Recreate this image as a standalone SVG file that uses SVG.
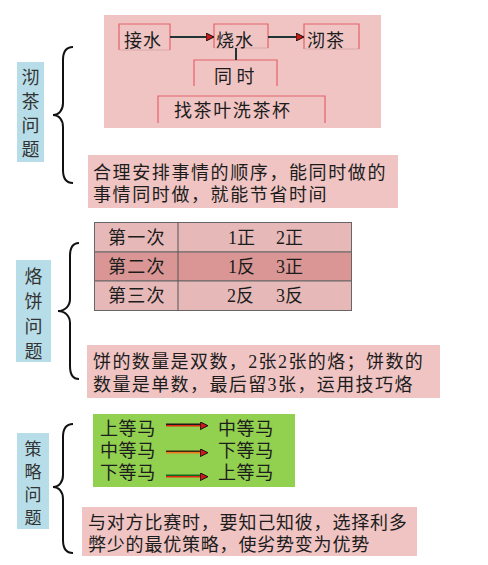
<svg xmlns="http://www.w3.org/2000/svg" width="488" height="565" viewBox="0 0 488 565">
<style>
text{font-family:"Liberation Serif","Noto Sans CJK SC",sans-serif;fill:#1c1c1c;font-size:18px}
.lab{fill:#b7dee8}
.lt{font-family:"Noto Sans CJK SC",sans-serif;text-anchor:middle;fill:#333;font-size:18px}
.lt3{font-size:17px}
.pink{fill:#efc4c3}
.brace{fill:none;stroke:#111;stroke-width:2}
.ib{fill:none;stroke:#e5636b;stroke-width:1.2}
.sh{fill:none;stroke:#d9a9a8;stroke-width:1}
.row{fill:#e6b9b8;stroke:#666;stroke-width:1}
.row2{fill:#d99694;stroke:#666;stroke-width:1}
.conn{stroke:#1f3535;stroke-width:2;fill:none}
</style>
<defs>
<marker id="ah" viewBox="0 0 8 8" refX="7" refY="4" markerWidth="4" markerHeight="4" orient="auto" markerUnits="strokeWidth">
<path d="M0,0 L8,4 L0,8 z" fill="#d01818" stroke="#111" stroke-width="1"/>
</marker>
<marker id="ah2" viewBox="0 0 8 8" refX="7" refY="4" markerWidth="5.5" markerHeight="5.5" orient="auto" markerUnits="strokeWidth">
<path d="M0,0 L8,4 L0,8 z" fill="#d01818" stroke="#111" stroke-width="1"/>
</marker>
</defs>

<!-- Section 1 -->
<g id="label1"><rect class="lab" x="17" y="62" width="27" height="100"/>
<text class="lt" x="30.5" y="84">沏</text><text class="lt" x="30.5" y="108">茶</text><text class="lt" x="30.5" y="132">问</text><text class="lt" x="30.5" y="156">题</text></g>
<g id="brace1"><path class="brace" d="M73,47 C66,47 63,51 63,60 L63,103 C63,110 59,115 53,115 C59,115 63,120 63,127 L63,170 C63,179 66,183 73,183"/></g>
<g id="panel1"><rect class="pink" x="104" y="15" width="277" height="113"/></g>
<g id="n-jieshui"><path class="sh" d="M120,50 H170"/><path class="ib" d="M119,50 V24 H170 V50"/><text x="124" y="47" letter-spacing="1">接水</text></g>
<g id="n-shaoshui"><path class="sh" d="M215,48 H268"/><path class="ib" d="M214,48 V24 H268 V48"/><text x="216" y="47" letter-spacing="1">烧水</text></g>
<g id="n-qicha"><path class="sh" d="M305,49 H359"/><path class="ib" d="M304,49 V24 H359 V49"/><text x="307" y="47" letter-spacing="1">沏茶</text></g>
<g id="n-tongshi"><path class="ib" d="M194,86 V60 H277 V86"/><text x="214" y="83">同&#160;时</text></g>
<g id="n-zhaocha"><path class="ib" d="M158,123 V96 H325 V123"/><text x="174" y="117" letter-spacing="1.6">找茶叶洗茶杯</text></g>
<g id="connectors1">
<line class="conn" x1="170" y1="37" x2="213" y2="37" marker-end="url(#ah)"/>
<line class="conn" x1="268" y1="37" x2="303" y2="37" marker-end="url(#ah)"/>
<line class="conn" x1="236" y1="48" x2="236" y2="60"/>
</g>
<g id="desc1"><rect class="pink" x="88" y="155" width="310" height="53"/>
<text x="93" y="179" letter-spacing="1.6">合理安排事情的顺序，能同时做的</text>
<text x="93" y="201" letter-spacing="1.6">事情同时做，就能节省时间</text></g>

<!-- Section 2 -->
<g id="label2"><rect class="lab" x="16" y="260" width="35" height="102"/>
<text class="lt" x="33.5" y="283">烙</text><text class="lt" x="33.5" y="308">饼</text><text class="lt" x="33.5" y="333">问</text><text class="lt" x="33.5" y="358">题</text></g>
<g id="brace2"><path class="brace" d="M79,243 C73,243 70,247 70,256 L70,299 C70,306 65,311 58,311 C65,311 70,316 70,323 L70,366 C70,375 73,379 79,379"/></g>
<g id="table">
<rect class="row" x="94.5" y="222.5" width="257" height="29.5"/>
<rect class="row2" x="94.5" y="252" width="257" height="29"/>
<rect class="row" x="94.5" y="281" width="257" height="29.5"/>
<line x1="178" y1="222.5" x2="178" y2="310.5" stroke="#555" stroke-width="1"/>
<text x="108" y="244" letter-spacing="1.3">第一次</text>
<text x="108" y="273" letter-spacing="1.3">第二次</text>
<text x="108" y="302" letter-spacing="1.3">第三次</text>
<text y="244"><tspan x="228">1正</tspan><tspan x="276">2正</tspan></text>
<text y="273"><tspan x="228">1反</tspan><tspan x="276">3正</tspan></text>
<text y="302"><tspan x="227">2反</tspan><tspan x="276">3反</tspan></text>
</g>
<g id="desc2"><rect class="pink" x="87" y="345" width="353" height="53"/>
<text x="93" y="368" letter-spacing="1.4">饼的数量是双数，2张2张的烙；饼数的</text>
<text x="93" y="391" letter-spacing="1.4">数量是单数，最后留3张，运用技巧烙</text></g>

<!-- Section 3 -->
<g id="label3"><rect class="lab" x="17" y="433" width="32" height="96"/>
<text class="lt lt3" x="33" y="455">策</text><text class="lt lt3" x="33" y="478">略</text><text class="lt lt3" x="33" y="501">问</text><text class="lt lt3" x="33" y="524">题</text></g>
<g id="brace3"><path class="brace" d="M73,424 C66,424 63,428 63,437 L63,475 C63,482 59,487 53,487 C59,487 63,492 63,499 L63,540 C63,549 66,553 73,553"/></g>
<g id="panel3"><rect x="93" y="414" width="202" height="73" fill="#92d050"/>
<text x="100" y="435" letter-spacing="0.6">上等马</text>
<text x="100" y="457" letter-spacing="0.6">中等马</text>
<text x="100" y="479" letter-spacing="0.6">下等马</text>
<text x="218" y="435" letter-spacing="0.6">中等马</text>
<text x="218" y="457" letter-spacing="0.6">下等马</text>
<text x="218" y="479" letter-spacing="0.6">上等马</text>
</g>
<g id="connectors3">
<line x1="166" y1="424.3" x2="203" y2="424.3" stroke="#1a1a1a" stroke-width="1.4"/>
<line x1="166" y1="425.7" x2="207" y2="425.7" stroke="#e02a10" stroke-width="1.4" marker-end="url(#ah2)"/>
<line x1="166" y1="451.3" x2="203" y2="451.3" stroke="#3a2a10" stroke-width="1.4"/>
<line x1="166" y1="452.7" x2="207" y2="452.7" stroke="#f07a20" stroke-width="1.4" marker-end="url(#ah2)"/>
<line x1="166" y1="475.3" x2="203" y2="475.3" stroke="#106a20" stroke-width="1.4"/>
<line x1="166" y1="476.7" x2="207" y2="476.7" stroke="#e02a10" stroke-width="1.4" marker-end="url(#ah2)"/>
</g>
<g id="desc3"><rect class="pink" x="82" y="507" width="335" height="49"/>
<text x="88" y="529" letter-spacing="0.8">与对方比赛时，要知己知彼，选择利多</text>
<text x="88" y="551" letter-spacing="0.8">弊少的最优策略，使劣势变为优势</text></g>
</svg>
